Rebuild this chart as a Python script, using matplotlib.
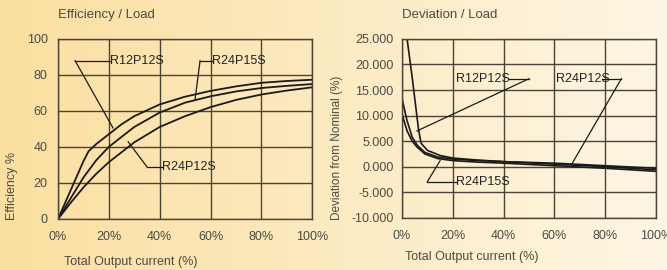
import numpy as np
import matplotlib
matplotlib.use("Agg")
import matplotlib.pyplot as plt

# Efficiency / Load data (x in % of total output current)
eff_x_r12p12s = [0, 5, 10, 12, 15, 20, 25, 30, 40, 50, 60, 70, 80, 90, 100]
eff_r12p12s = [0, 16, 32, 37.5, 41.5, 47, 52.5, 57, 63.5, 67.8, 71, 73.5, 75.5, 76.5, 77.2]
eff_x = [0, 5, 10, 15, 20, 30, 40, 50, 60, 70, 80, 90, 100]
eff_r24p15s = [0, 11.5, 23, 32.5, 40, 51, 59, 64.5, 68, 70.7, 72.6, 73.8, 74.8]
eff_r24p12s = [0, 9, 17.5, 25, 31.5, 42.5, 51, 57, 62, 66, 69, 71.2, 73]

# Deviation / Load data
dev_x_r12p12s = [2, 4, 6.5, 7.5, 10, 15, 20, 30, 40, 60, 80, 100]
dev_r12p12s = [25, 17.5, 7.3, 4.6, 3.2, 2.2, 1.7, 1.3, 1.0, 0.5, 0.0, -0.6]
dev_x = [0, 2, 4, 6, 9, 14, 20, 30, 40, 60, 80, 100]
dev_r24p12s = [13.3, 9, 5.8, 4.2, 2.8, 1.9, 1.5, 1.2, 1.0, 0.7, 0.2, -0.3]
dev_r24p15s = [10.3, 7, 5, 3.8, 2.5, 1.6, 1.2, 0.9, 0.7, 0.2, -0.3, -0.9]

x_ticks = [0, 20, 40, 60, 80, 100]
x_ticklabels = ["0%", "20%", "40%", "60%", "80%", "100%"]
eff_yticks = [0, 20, 40, 60, 80, 100]
dev_yticks = [-10, -5, 0, 5, 10, 15, 20, 25]

plt.rcParams["font.family"] = ["Liberation Sans", "DejaVu Sans"]
GRID = "#4a4438"
TXT = "#4d4a44"
INK = "#1a1a1a"
FS = 9

fig = plt.figure(figsize=(6.67, 2.70), dpi=100)

# background gradient, orange on the left fading to cream on the right
bg = fig.add_axes([0, 0, 1, 1], zorder=-10)
left_c = np.array([251, 223, 160]) / 255
right_c = np.array([254, 246, 228]) / 255
t = np.linspace(0, 1, 256)[None, :, None]
grad = left_c * (1 - t) + right_c * t
bg.imshow(grad, aspect="auto", extent=[0, 1, 0, 1])
bg.axis("off")


def style(ax, yticks, ylabels, ypad):
    ax.set_facecolor("none")
    ax.set_xlim(0, 100)
    ax.set_xticks(x_ticks)
    ax.set_xticklabels(x_ticklabels)
    ax.set_yticks(yticks)
    ax.set_yticklabels(ylabels)
    ax.set_ylim(yticks[0], yticks[-1])
    ax.grid(True, color=GRID, lw=1.0)
    ax.set_axisbelow(True)
    ax.tick_params(length=0, labelsize=FS, labelcolor=TXT)
    ax.tick_params(axis="x", pad=8.5)
    ax.tick_params(axis="y", pad=ypad)
    for s in ax.spines.values():
        s.set_color(GRID)
        s.set_linewidth(1.0)


def leader(ax, text, tx, ty, hx0, hx1, px, py):
    # horizontal stub next to the label, then a slanted line to the curve
    ax.plot([hx0, hx1], [ty, ty], color=INK, lw=0.9, clip_on=False)
    ax.plot([hx0, px], [ty, py], color=INK, lw=0.9, clip_on=False)
    ax.text(tx, ty, text, ha="left", va="center", fontsize=FS, color="#222")


# Efficiency / Load
ax1 = fig.add_axes([0.087, 0.189, 0.381, 0.668])
style(ax1, eff_yticks, [str(v) for v in eff_yticks], 7.5)
ax1.plot(eff_x_r12p12s, eff_r12p12s, color=INK, lw=1.3)
ax1.plot(eff_x, eff_r24p15s, color=INK, lw=1.3)
ax1.plot(eff_x, eff_r24p12s, color=INK, lw=1.3)
leader(ax1, "R12P12S", 20.3, 87.8, 6.7, 20.3, 21.6, 50.5)
leader(ax1, "R24P15S", 60.6, 87.8, 55.9, 60.6, 53.9, 66.1)
leader(ax1, "R24P12S", 40.9, 28.9, 35.0, 40.9, 27.6, 42.8)
fig.text(0.087, 0.945, "Efficiency / Load", fontsize=9.5, color=TXT, va="center")
fig.text(0.018, 0.31, "Efficiency %", rotation=90, fontsize=FS, color=TXT,
         ha="center", va="center")
fig.text(0.196, 0.03, "Total Output current (%)", fontsize=FS, color=TXT,
         ha="center", va="center")

# Deviation / Load
ax2 = fig.add_axes([0.6027, 0.193, 0.381, 0.663])
style(ax2, dev_yticks, ["%.3f" % v for v in dev_yticks], 6)
ax2.plot(dev_x_r12p12s, dev_r12p12s, color=INK, lw=1.2)
ax2.plot(dev_x, dev_r24p12s, color=INK, lw=1.2)
ax2.plot(dev_x, dev_r24p15s, color=INK, lw=1.2)
ax2.text(21.1, 17.2, "R12P12S", ha="left", va="center", fontsize=FS, color="#222")
ax2.plot([42.1, 49.9], [17.2, 17.2], color=INK, lw=0.9)
ax2.plot([49.9, 5.9], [17.2, 7.0], color=INK, lw=0.9)
ax2.text(60.5, 17.2, "R24P12S", ha="left", va="center", fontsize=FS, color="#222")
ax2.plot([78.7, 86.3], [17.2, 17.2], color=INK, lw=0.9)
ax2.plot([86.3, 66.9], [17.2, 0.6], color=INK, lw=0.9)
leader(ax2, "R24P15S", 21.1, -2.9, 10.0, 21.1, 15.0, 1.2)
fig.text(0.603, 0.945, "Deviation / Load", fontsize=9.5, color=TXT, va="center")
fig.text(0.505, 0.452, "Deviation from Nominal (%)", rotation=90, fontsize=8.5,
         color=TXT, ha="center", va="center")
fig.text(0.708, 0.048, "Total Output current (%)", fontsize=FS, color=TXT,
         ha="center", va="center")

fig.savefig("out.png", dpi=100)
